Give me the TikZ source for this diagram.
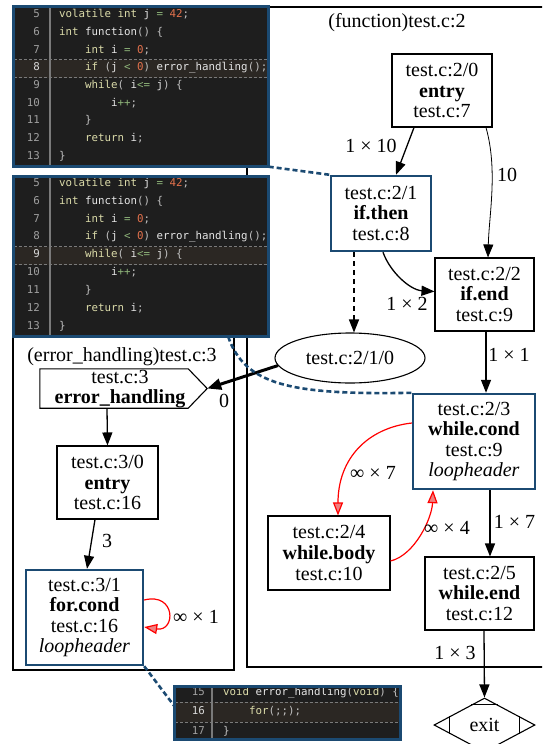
\documentclass[tikz,border=0pt]{standalone}
\usepackage{fontspec}
\setmainfont{Liberation Serif}
\setmonofont{DejaVu Sans Mono}
\usetikzlibrary{arrows.meta,shapes.geometric,calc}
\definecolor{gvblue}{HTML}{1B4A72}
\definecolor{codebg}{HTML}{1E1E1E}
\definecolor{hlbg}{HTML}{2B2723}
\definecolor{kwc}{HTML}{DCDCAA}
\definecolor{idc}{HTML}{E6E6E6}
\definecolor{numc}{HTML}{E3714C}
\definecolor{opc}{HTML}{8FB57A}
\definecolor{punc}{HTML}{C0C0C0}
\definecolor{lnum}{HTML}{A0A0A0}
\definecolor{lnumhl}{HTML}{D8D8D8}
\definecolor{sepc}{HTML}{7A7A7A}
\definecolor{redfill}{HTML}{F08080}
\newcommand\gvf{\fontsize{20}{20.6}\selectfont}
\newcommand\cdf{\fontsize{10.8}{12}\selectfont\ttfamily}
\newcommand\ckw[1]{\textcolor{kwc}{#1}}
\newcommand\cid[1]{\textcolor{idc}{#1}}
\newcommand\cnm[1]{\textcolor{numc}{#1}}
\newcommand\cop[1]{\textcolor{opc}{#1}}
\newcommand\cpu[1]{\textcolor{punc}{#1}}
\newcommand\codeln[6]{\node[lno] (#1n) at (#2,#4) {#5};\node[ctext] (#1c) at (#3,#4) {#6};}
\tikzset{
  gv/.style={font=\gvf, align=center, inner sep=0pt},
  bx/.style={gv, draw, line width=1.1pt, fill=white},
  bbx/.style={gv, draw=gvblue, line width=2.4pt, fill=white},
  lbl/.style={font=\gvf, inner sep=0pt, text=black},
  edge/.style={line width=1.3pt, -{Triangle[length=13pt,width=10pt]}},
  thinedge/.style={line width=0.8pt, -{Triangle[length=13pt,width=10pt]}},
  thickedge/.style={line width=3pt, -{Triangle[length=14pt,width=11pt]}},
  redge/.style={red, line width=1.2pt, -{Triangle[length=13pt,width=10pt,fill=redfill]}},
  dashedge/.style={line width=1.3pt, dash pattern=on 5pt off 4pt, -{Triangle[length=13pt,width=10pt]}},
  link/.style={gvblue, line width=2.6pt, dash pattern=on 5pt off 3pt},
  cl/.style={line width=1.2pt},
  lno/.style={font=\cdf, text=lnum, anchor=mid east, inner sep=0pt},
  ctext/.style={font=\cdf, text=idc, anchor=mid west, inner sep=0pt},
  cbox/.style={fill=codebg, inner sep=0pt, draw=none},
  cbord/.style={draw=gvblue, line width=3.2pt},
  hl/.style={fill=hlbg},
  hlline/.style={draw=sepc, line width=0.8pt, dash pattern=on 3pt off 2pt},
  sepline/.style={draw=sepc, line width=1.2pt}
}
\begin{document}
\begin{tikzpicture}[x=1pt,y=-1pt]
\useasboundingbox (0,0) rectangle (542,744);
\clip (0,0) rectangle (542,744);

% clusters
\draw[cl] (247,7) rectangle (560,667);
\draw[cl] (13,330) rectangle (234,670);
\node[gv] (t1) at (397,23) {(function)test.c:2};
\node[gv] (t2) at (122,357) {(error\_handling)test.c:3};

% nodes of function
\node[bx, minimum width=100pt, minimum height=73pt] (entry) at (442,90.5) {test.c:2/0\\\textbf{entry}\\test.c:7};
\node[bbx, minimum width=100pt, minimum height=75pt] (ifthen) at (381,213.5) {test.c:2/1\\\textbf{if.then}\\test.c:8};
\node[bx, minimum width=99pt, minimum height=73pt] (ifend) at (484.5,294.5) {test.c:2/2\\\textbf{if.end}\\test.c:9};
\node[gv, draw, ellipse, line width=1.1pt, fill=white, minimum width=150pt, minimum height=50pt] (ell) at (350,358) {test.c:2/1/0};
\node[bbx, minimum width=122pt, minimum height=95pt] (wcond) at (474,441.5) {test.c:2/3\\\textbf{while.cond}\\test.c:9\\\textit{loopheader}};
\node[bx, minimum width=122pt, minimum height=74pt] (wbody) at (329,553) {test.c:2/4\\\textbf{while.body}\\test.c:10};
\node[bx, minimum width=109pt, minimum height=73pt] (wend) at (479.5,593.5) {test.c:2/5\\\textbf{while.end}\\test.c:12};
\node[gv, draw, diamond, line width=1.1pt, fill=white, minimum width=101pt, minimum height=54pt] (exit) at (484.5,725) {exit};
\draw[line width=1.1pt] ($(exit.north)+(-13.1,7)$) -- ($(exit.north)+(13.1,7)$);
\draw[line width=1.1pt] ($(exit.west)+(16,-8.6)$) -- ($(exit.west)+(16,8.6)$);
\draw[line width=1.1pt] ($(exit.east)+(-16,-8.6)$) -- ($(exit.east)+(-16,8.6)$);
\draw[line width=1.1pt] ($(exit.south)+(-13.1,-7)$) -- ($(exit.south)+(13.1,-7)$);

% nodes of error_handling
\node[inner sep=0pt, minimum width=167pt, minimum height=39pt] (eh) at (123.5,388.5) {};
\draw[line width=1.1pt] (eh.north west) -- ([xshift=-19pt]eh.north east) -- (eh.east) -- ([xshift=-19pt]eh.south east) -- (eh.south west) -- cycle;
\node[gv] (ehl1) at (120,377.5) {test.c:3};
\node[gv] (ehl2) at (120,398.5) {\textbf{error\_handling}};
\node[bx, minimum width=101pt, minimum height=73pt] (entry3) at (107.5,482.5) {test.c:3/0\\\textbf{entry}\\test.c:16};
\node[bbx, minimum width=117pt, minimum height=95pt] (fcond) at (84.5,617.5) {test.c:3/1\\\textbf{for.cond}\\test.c:16\\\textit{loopheader}};

% edges
\draw[edge] ([xshift=-28pt]entry.south) -- ([xshift=15pt]ifthen.north) node[lbl] (e1) at (371,146) {1 × 10};
\draw[thinedge] ([xshift=44pt]entry.south) .. controls (498,170) and (489,215) .. ([xshift=3.5pt]ifend.north) node[lbl] (e2) at (507,175) {10};
\draw[edge] ([xshift=2pt]ifthen.south) .. controls (390,272) and (410,290) .. ([yshift=3pt]ifend.west) node[lbl] (e3) at (407,304) {1 × 2};
\draw[dashedge] ([xshift=-27pt]ifthen.south) -- ([xshift=4pt]ell.north);
\draw[edge] ([xshift=1.5pt]ifend.south) -- ([xshift=12pt]wcond.north) node[lbl] (e4) at (509,355) {1 × 1};
\draw[redge] ([yshift=18.5pt]wcond.west) .. controls (368,428) and (338,458) .. ([xshift=9pt]wbody.north) node[lbl] (e5) at (373,473) {∞ × 7};
\draw[redge] ([yshift=-8pt]wbody.east) .. controls (415,555) and (432,518) .. ([xshift=-41pt]wcond.south) node[lbl] (e6) at (447,528) {∞ × 4};
\draw[edge] ([xshift=16pt]wcond.south) -- ([xshift=10.5pt]wend.north) node[lbl] (e7) at (514.5,522) {1 × 7};
\draw[edge] ([xshift=4.5pt]wend.south) -- (exit.north) node[lbl] (e8) at (455,653) {1 × 3};
\draw[thickedge] (ell.186) -- (eh.east) node[lbl] (e9) at (224,401) {0};
\draw[edge] ([xshift=-16.5pt]eh.south) -- (entry3.north);
\draw[edge] ([xshift=-12.5pt]entry3.south) -- ([xshift=2.5pt]fcond.north) node[lbl] (e10) at (107,541) {3};
\draw[redge] ([yshift=17.5pt]fcond.east) .. controls (176,592) and (176,632) .. ([yshift=-9.5pt]fcond.east) node[lbl] (e11) at (196,617) {∞ × 1};

% code box 1
\node[cbox, minimum width=255pt, minimum height=160pt] (cb1) at (141,86.5) {};
\begin{scope}
\clip (13.5,6.5) rectangle (268.5,166.5);
\fill[hl] (13.5,59.6) rectangle (268.5,77.6);
\draw[hlline] (13.5,59.6) -- (268.5,59.6);
\draw[hlline] (13.5,77.6) -- (268.5,77.6);
\draw[sepline] (50,6.5) -- (50,166.5);
\codeln{a5}{40}{59}{15.5}{5}{\ckw{volatile} \ckw{int} \cid{j} \cop{=} \cnm{42}\cpu{;}}
\codeln{a6}{40}{59}{33.2}{6}{\ckw{int} \cid{function}\cpu{() \{}}
\codeln{a7}{40}{85}{50.9}{7}{\ckw{int} \cid{i} \cop{=} \cnm{0}\cpu{;}}
\codeln{a8}{40}{85}{68.6}{\textcolor{lnumhl}{8}}{\ckw{if} \cpu{(}\cid{j} \cop{<} \cnm{0}\cpu{)} \cid{error\_handling}\cpu{();}}
\codeln{a9}{40}{85}{86.3}{9}{\ckw{while}\cpu{(} \cid{i}\cop{<=} \cid{j}\cpu{) \{}}
\codeln{a10}{40}{111}{104.0}{10}{\cid{i}\cop{++}\cpu{;}}
\codeln{a11}{40}{85}{121.7}{11}{\cpu{\}}}
\codeln{a12}{40}{85}{139.4}{12}{\ckw{return} \cid{i}\cpu{;}}
\codeln{a13}{40}{59}{157.1}{13}{\cpu{\}}}
\end{scope}
\draw[cbord] (cb1.north west) rectangle (cb1.south east);

% code box 2
\node[cbox, minimum width=255pt, minimum height=160pt] (cb2) at (141,256.5) {};
\begin{scope}
\clip (13.5,176.5) rectangle (268.5,336.5);
\fill[hl] (13.5,246.6) rectangle (268.5,264.6);
\draw[hlline] (13.5,246.6) -- (268.5,246.6);
\draw[hlline] (13.5,264.6) -- (268.5,264.6);
\draw[sepline] (50,176.5) -- (50,336.5);
\codeln{b5}{40}{59}{184.0}{5}{\ckw{volatile} \ckw{int} \cid{j} \cop{=} \cnm{42}\cpu{;}}
\codeln{b6}{40}{59}{201.9}{6}{\ckw{int} \cid{function}\cpu{() \{}}
\codeln{b7}{40}{85}{219.8}{7}{\ckw{int} \cid{i} \cop{=} \cnm{0}\cpu{;}}
\codeln{b8}{40}{85}{237.7}{8}{\ckw{if} \cpu{(}\cid{j} \cop{<} \cnm{0}\cpu{)} \cid{error\_handling}\cpu{();}}
\codeln{b9}{40}{85}{255.6}{\textcolor{lnumhl}{9}}{\ckw{while}\cpu{(} \cid{i}\cop{<=} \cid{j}\cpu{) \{}}
\codeln{b10}{40}{111}{273.5}{10}{\cid{i}\cop{++}\cpu{;}}
\codeln{b11}{40}{85}{291.4}{11}{\cpu{\}}}
\codeln{b12}{40}{85}{309.3}{12}{\ckw{return} \cid{i}\cpu{;}}
\codeln{b13}{40}{59}{327.2}{13}{\cpu{\}}}
\end{scope}
\draw[cbord] (cb2.north west) rectangle (cb2.south east);

% code box 3
\node[cbox, minimum width=226pt, minimum height=53pt] (cb3) at (287.5,713) {};
\begin{scope}
\clip (174.5,686.5) rectangle (400.5,739.5);
\fill[hl] (174.5,702) rectangle (400.5,722);
\draw[hlline] (174.5,702) -- (400.5,702);
\draw[hlline] (174.5,722) -- (400.5,722);
\draw[sepline] (212,686.5) -- (212,739.5);
\codeln{c15}{205}{223}{693}{15}{\ckw{void} \cid{error\_handling}\cpu{(}\ckw{void}\cpu{) \{}}
\codeln{c16}{205}{249}{712.5}{\textcolor{lnumhl}{16}}{\ckw{for}\cpu{(;;);}}
\codeln{c17}{205}{223}{732}{17}{\cpu{\}}}
\end{scope}
\draw[cbord] (cb3.north west) rectangle (cb3.south east);

% links from code to nodes
\draw[link] (cb1.south east) -- (ifthen.north west);
\draw[link] ([xshift=-40.5pt]cb2.south east) .. controls (245,385) and (290,395) .. (wcond.north west);
\draw[link] (fcond.south east) -- ([yshift=7pt]cb3.west);
\end{tikzpicture}
\end{document}
